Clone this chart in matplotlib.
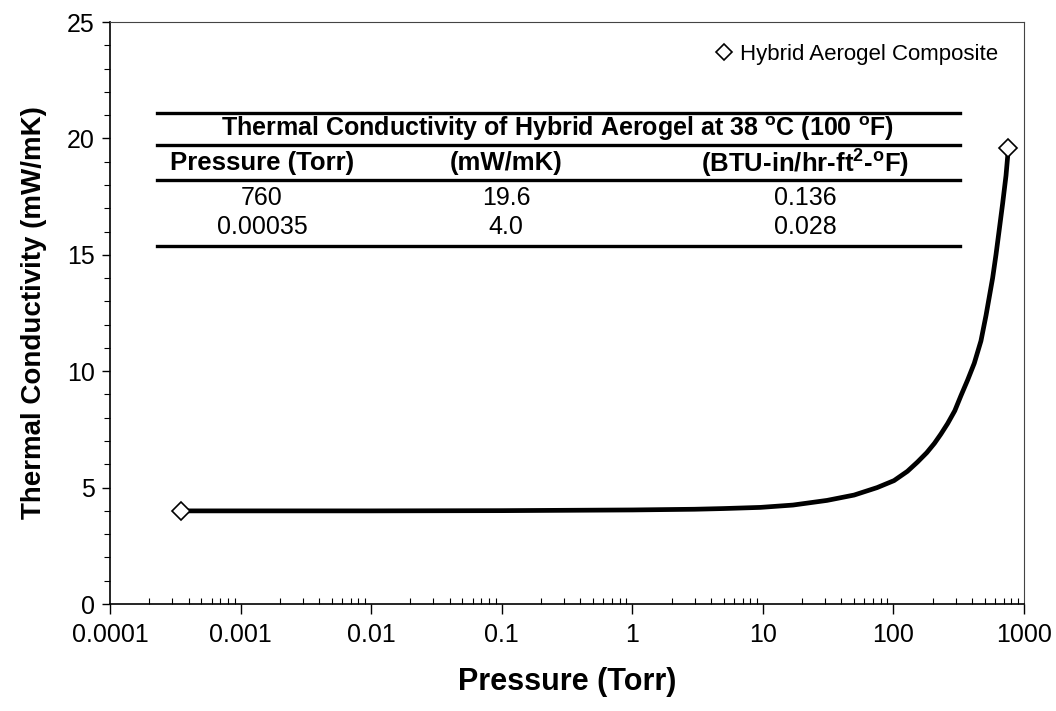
import matplotlib
matplotlib.use("Agg")
import matplotlib.pyplot as plt
from matplotlib.ticker import FixedLocator, FixedFormatter, LogLocator, MultipleLocator, NullFormatter
from matplotlib.lines import Line2D

plt.rcParams['font.family'] = ['Liberation Sans', 'DejaVu Sans']
plt.rcParams['mathtext.fontset'] = 'custom'
plt.rcParams['mathtext.rm'] = 'Liberation Sans'
plt.rcParams['mathtext.bf'] = 'Liberation Sans:bold'

# Curve
pressure_torr = [0.00035, 0.001, 0.01, 0.1, 1, 3, 5, 9.6, 17, 31, 50, 75, 101, 128, 153, 180,
                 206, 231, 260, 295, 329, 370, 416, 468, 512, 575, 610, 647, 686, 728, 760]
conductivity = [4.0, 4.0, 4.0, 4.01, 4.04, 4.07, 4.1, 4.15, 4.25, 4.45, 4.68, 5.0, 5.3, 5.7,
                6.1, 6.5, 6.9, 7.3, 7.75, 8.3, 8.95, 9.62, 10.34, 11.3, 12.4, 14.0, 15.0,
                16.1, 17.2, 18.4, 19.6]

# Measured points (markers)
meas_pressure = [0.00035, 760]
meas_conductivity = [4.0, 19.6]
series_label = "Hybrid Aerogel Composite"

x_ticks = [0.0001, 0.001, 0.01, 0.1, 1, 10, 100, 1000]
x_tick_labels = ["0.0001", "0.001", "0.01", "0.1", "1", "10", "100", "1000"]
y_ticks = [0, 5, 10, 15, 20, 25]

table_title = r"Thermal Conductivity of Hybrid Aerogel at 38 $^{\mathbf{o}}$C (100 $^{\mathbf{o}}$F)"
table_headers = ["Pressure (Torr)", "(mW/mK)", r"(BTU-in/hr-ft$^{\mathbf{2}}$-$^{\mathbf{o}}$F)"]
table_rows = [["760", "19.6", "0.136"],
              ["0.00035", "4.0", "0.028"]]

W, H = 1056, 711
fig = plt.figure(figsize=(W / 100, H / 100), dpi=100)
ax = fig.add_axes([110 / W, 1 - 604 / H, (1024 - 110) / W, (604 - 22) / H])

ax.plot(pressure_torr, conductivity, color='black', lw=3.4, solid_capstyle='round',
        solid_joinstyle='round', zorder=2)
ax.plot(meas_pressure, meas_conductivity, ls='none', marker='D', ms=9.5, mfc='white',
        mec='black', mew=1.2, label=series_label, zorder=3)

ax.set_xscale('log')
ax.set_xlim(0.0001, 1000)
ax.set_ylim(0, 25)

ax.xaxis.set_major_locator(FixedLocator(x_ticks))
ax.xaxis.set_major_formatter(FixedFormatter(x_tick_labels))
ax.xaxis.set_minor_locator(LogLocator(base=10, subs=range(2, 10), numticks=20))
ax.xaxis.set_minor_formatter(NullFormatter())
ax.yaxis.set_major_locator(FixedLocator(y_ticks))
ax.yaxis.set_minor_locator(MultipleLocator(1))

ax.tick_params(axis='x', which='major', direction='out', length=7, width=1, labelsize=18, pad=7)
ax.tick_params(axis='x', which='minor', direction='in', length=4, width=0.8)
ax.tick_params(axis='y', which='major', direction='out', length=6, width=1, labelsize=18, pad=5)
ax.tick_params(axis='y', which='minor', direction='out', length=4, width=0.8)

for side in ['left', 'bottom']:
    ax.spines[side].set_linewidth(1.2)
for side in ['right', 'top']:
    ax.spines[side].set_linewidth(0.8)
    ax.spines[side].set_color('#444444')

ax.set_xlabel("Pressure (Torr)", fontsize=22, fontweight='bold', labelpad=14)
ax.set_ylabel("Thermal Conductivity (mW/mK)", fontsize=20, fontweight='bold', labelpad=14)

ax.legend(loc='center right', bbox_to_anchor=(0.9716, 0.945), frameon=False, fontsize=16,
          handlelength=0.8, handletextpad=0.3, markerscale=0.9, borderpad=0, borderaxespad=0)

# Table drawn in figure pixel coordinates
def fx(px):
    return px / W

def fy(py):
    return 1 - py / H

for py in [113, 145, 180, 246]:
    fig.add_artist(Line2D([fx(157), fx(960)], [fy(py), fy(py)], color='black', lw=2.4))

fig.text(fx(557), fy(129), table_title, ha='center', va='center', fontsize=18, fontweight='bold')
col_x = [262, 506, 805]
for cx, htxt in zip(col_x, table_headers):
    fig.text(fx(cx), fy(163), htxt, ha='center', va='center', fontsize=18.5, fontweight='bold')
for ry, row in zip([198, 227], table_rows):
    for cx, val in zip(col_x, row):
        fig.text(fx(cx), fy(ry), val, ha='center', va='center', fontsize=18)

fig.savefig("out.png", dpi=100)
